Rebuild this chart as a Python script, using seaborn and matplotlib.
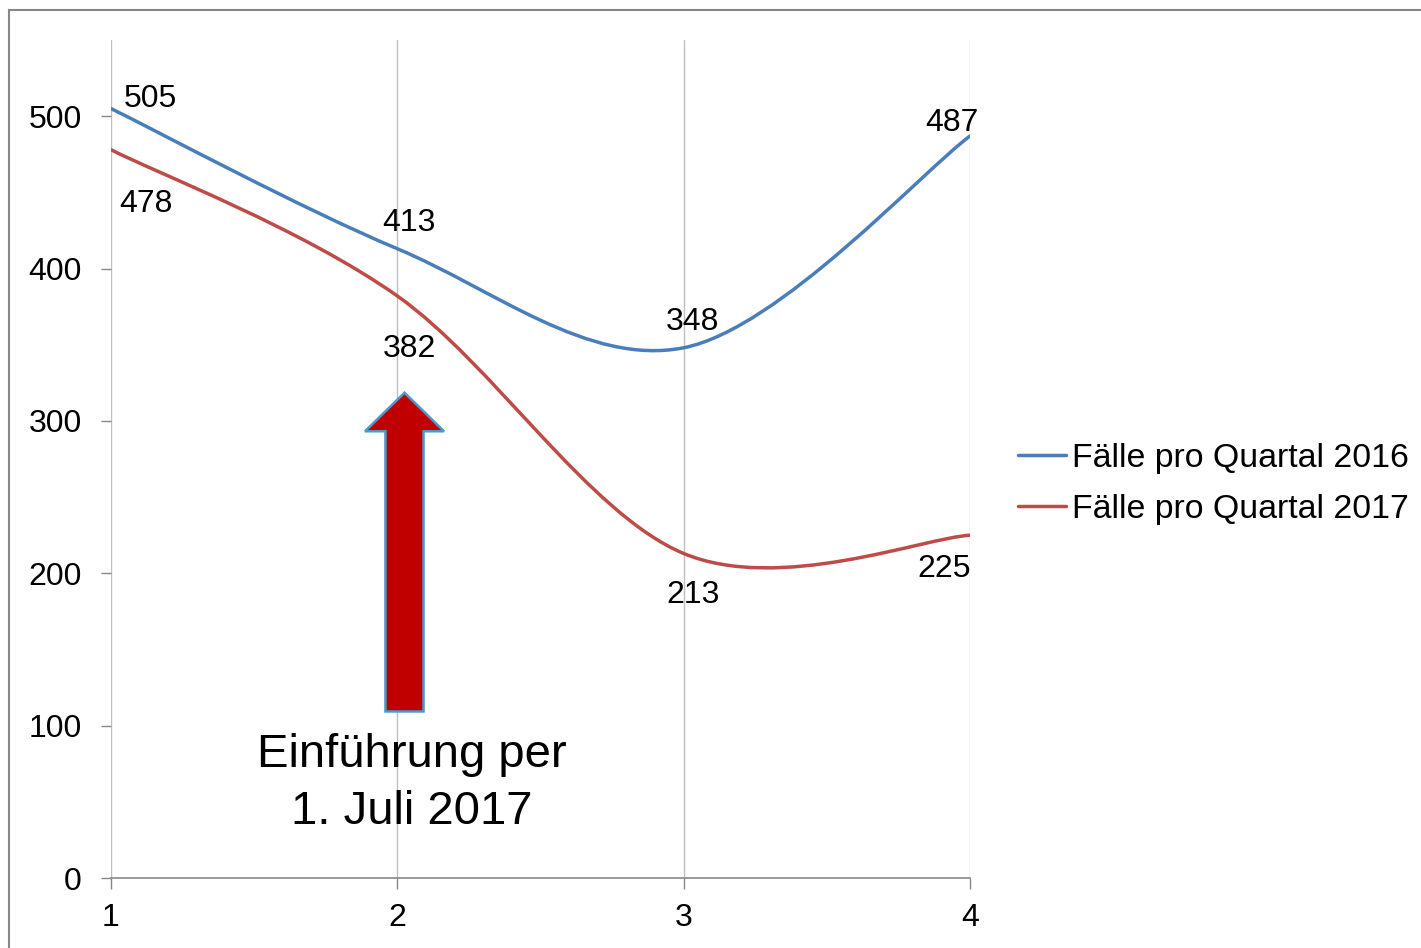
import matplotlib
matplotlib.use("Agg")
import matplotlib.pyplot as plt
import seaborn as sns
import numpy as np
from matplotlib.path import Path
from matplotlib.patches import PathPatch, FancyArrow, Rectangle
from matplotlib.lines import Line2D

# ─────────────────────────────────────────
# DATEN
# ─────────────────────────────────────────
quartale = [1, 2, 3, 4]
faelle_2016 = [505, 413, 348, 487]
faelle_2017 = [478, 382, 213, 225]
serien = ["Fälle pro Quartal 2016", "Fälle pro Quartal 2017"]
y_ticks = [0, 100, 200, 300, 400, 500]

FARBEN = ["#4A7EBB", "#BE4B48"]
GRAU = "#878787"

sns.set_theme(style="white")
plt.rcParams["font.family"] = ["Liberation Sans", "DejaVu Sans"]


def glatte_kurve(x, y):
    """Excel-ähnliche Glättung: kubische Bezier-Segmente (Catmull-Rom)."""
    p = np.column_stack([x, y]).astype(float)
    n = len(p)
    verts, codes = [p[0]], [Path.MOVETO]
    for i in range(n - 1):
        prev = p[i - 1] if i > 0 else p[i]
        nxt = p[i + 2] if i + 2 < n else p[i + 1]
        c1 = p[i] + (p[i + 1] - prev) / 6
        c2 = p[i + 1] - (nxt - p[i]) / 6
        verts += [c1, c2, p[i + 1]]
        codes += [Path.CURVE4] * 3
    return Path(verts, codes)


fig = plt.figure(figsize=(14.21, 9.48), dpi=100)
ax = fig.add_axes([111 / 1421, 1 - 878 / 948, (970 - 111) / 1421, (878 - 40) / 948])

for werte, farbe in zip([faelle_2016, faelle_2017], FARBEN):
    ax.add_patch(PathPatch(glatte_kurve(quartale, werte), fill=False,
                           edgecolor=farbe, lw=2.5, capstyle="round", zorder=3))

# Datenbeschriftungen (Versatz in Punkten)
offsets_2016 = [(28, 6.8), (8.6, 18.8), (6.5, 18.8), (-13, 9.3)]
offsets_2017 = [(25, -39.2), (8.6, -38.2), (6.5, -29.7), (-18.7, -24.2)]
for werte, offs in [(faelle_2016, offsets_2016), (faelle_2017, offsets_2017)]:
    for x, v, off in zip(quartale, werte, offs):
        ax.annotate(str(v), (x, v), xytext=off, textcoords="offset points",
                    ha="center", va="center", fontsize=23, color="black", zorder=5)

ax.set_xlim(1, 4)
ax.set_ylim(0, 550)
ax.set_xticks(quartale)
ax.set_yticks(y_ticks)
ax.grid(axis="x", color="#BFBFBF", lw=1)
ax.grid(axis="y", visible=False)
for s in ["top", "right", "left"]:
    ax.spines[s].set_visible(False)
ax.spines["bottom"].set_color(GRAU)
ax.spines["bottom"].set_linewidth(1.2)
ax.tick_params(axis="y", direction="out", length=7, width=1, color=GRAU,
               pad=14, labelsize=23, labelcolor="black", left=True)
ax.tick_params(axis="x", direction="out", length=8, width=1, color=GRAU,
               pad=10, labelsize=23, labelcolor="black", bottom=True)

# Pfeil + Hinweis
ax.add_patch(FancyArrow(2.025, 109.3, 0, 318.5 - 109.3, width=0.133,
                        head_width=0.276, head_length=25.3,
                        length_includes_head=True, facecolor="#C00000",
                        edgecolor="#4A9BC7", lw=1.8, zorder=4))
ax.text(2.051, 62.0, "Einführung per\n1. Juli 2017", ha="center", va="center",
        fontsize=34, linespacing=1.38, color="black", zorder=5)

handles = [Line2D([0], [0], color=c, lw=2.5) for c in FARBEN]
fig.legend(handles, serien, loc="center left",
           bbox_to_anchor=(1018 / 1421, 1 - 484 / 948), frameon=False,
           fontsize=24.4, handlelength=1.42, handletextpad=0.18,
           labelspacing=0.6, borderpad=0, borderaxespad=0,
           labelcolor="black")

# Rahmen um das Diagramm
fig.add_artist(Rectangle((9 / 1421, -0.05), 1.2, 1.05 - 10 / 948,
                         transform=fig.transFigure, fill=False,
                         edgecolor=GRAU, lw=1.5))

fig.savefig("out.png", dpi=100, facecolor="white")
